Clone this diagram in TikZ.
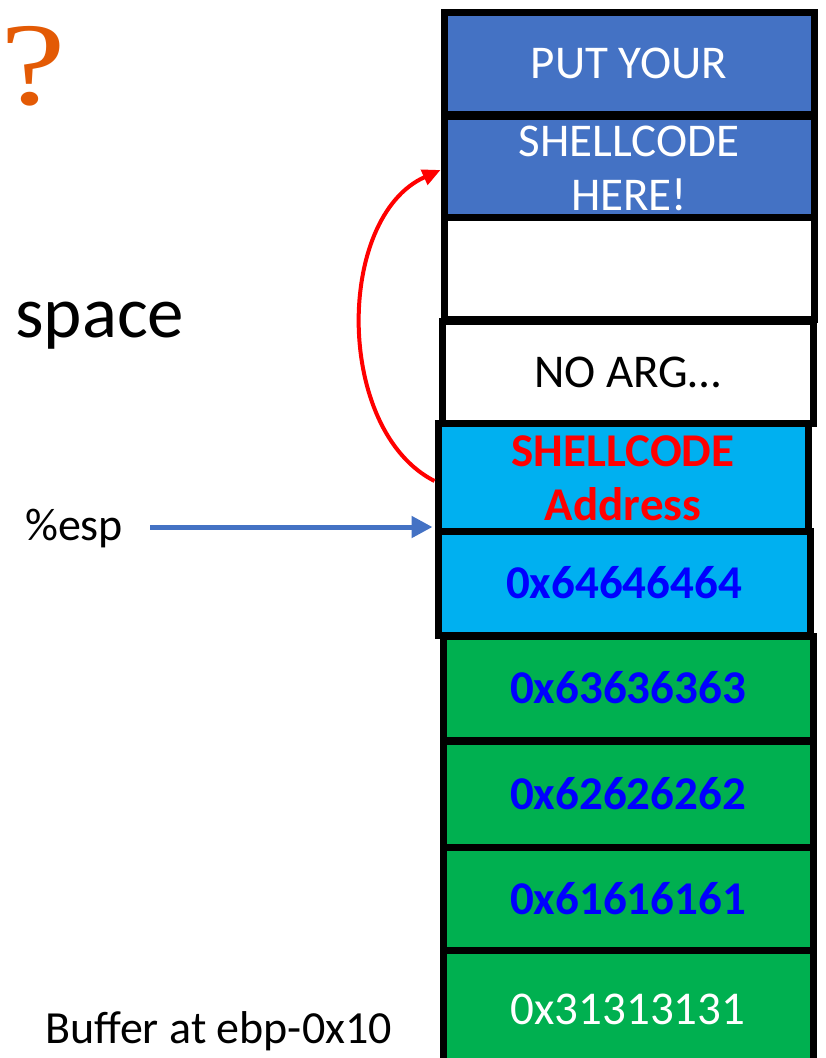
\documentclass[tikz,border=0pt]{standalone}
\usepackage{fontspec}
\setmainfont{Carlito}
\newfontfamily\askfont{Liberation Serif}
\usetikzlibrary{arrows.meta}

\definecolor{slotblue}{HTML}{4472C4}
\definecolor{slotcyan}{HTML}{00B0F0}
\definecolor{slotgreen}{HTML}{00B050}
\definecolor{hexblue}{HTML}{0000FF}
\definecolor{askorange}{HTML}{E35A05}

\begin{document}
\begin{tikzpicture}[x=1pt,y=-1pt]
	\tikzstyle{cell}=[draw=black, line width=7pt, inner sep=0pt, minimum width=370pt, minimum height=104pt, align=center, font=\fontsize{47}{54}\selectfont]
	\tikzstyle{hex}=[text=hexblue, font=\fontsize{47}{54}\selectfont\bfseries]
	\tikzstyle{label}=[anchor=base west, inner sep=0pt, font=\fontsize{46}{54}\selectfont]

	\useasboundingbox (0,0) rectangle (825,1058);

	% stack slots, top to bottom
	\draw node[cell, fill=slotblue, text=white, minimum height=102pt] at (629, 63) (put) {PUT YOUR};
	\draw node[cell, fill=slotblue, text=white] at (629, 168) (shell) {SHELLCODE\\HERE!};
	\draw node[cell, fill=white, minimum height=102pt] at (629, 268) (empty) {};
	\draw node[cell, fill=white, minimum width=371pt, minimum height=102pt] at (627.5, 372) (noarg) {NO ARG…};
	\draw node[cell, fill=slotcyan, text=red, minimum height=109pt, font=\fontsize{47}{54}\selectfont\bfseries] at (623, 478) (addr) {SHELLCODE\\Address};
	\draw node[cell, hex, fill=slotcyan, minimum width=372pt] at (624, 583) (d) {0x64646464};
	\draw node[cell, hex, fill=slotgreen] at (628, 688) (c) {0x63636363};
	\draw node[cell, hex, fill=slotgreen, minimum height=106pt] at (628, 794) (b) {0x62626262};
	\draw node[cell, hex, fill=slotgreen] at (628, 899) (a) {0x61616161};
	\draw node[cell, fill=slotgreen, text=white, minimum height=118pt] at (628, 1009) (ones) {0x31313131};

	% labels on the left
	\draw node[text=askorange, inner sep=0pt, font=\askfont\fontsize{118}{120}\selectfont, xscale=1.25] at (33, 66) (ask) {?};
	\draw node[label, font=\fontsize{73}{80}\selectfont] at (15, 337) (space) {space};
	\draw node[label] at (25, 540) (esp) {\%esp};
	\draw node[label] at (45, 1043) (buf) {Buffer at ebp-0x10};

	% stack pointer and the jump back to the shellcode
	\coordinate (espTail) at (150, 527);
	\draw[slotblue, line width=5pt, -{Triangle[length=21pt,width=21pt]}, shorten >=2pt] (espTail) -- (espTail -| addr.west);
	\draw[red, line width=4pt, -{Triangle[length=18pt,width=16pt]}] ([yshift=-3pt]addr.west) .. controls +(-100,-51) and +(-105,47) .. ([yshift=-2pt]shell.west);
\end{tikzpicture}
\end{document}
